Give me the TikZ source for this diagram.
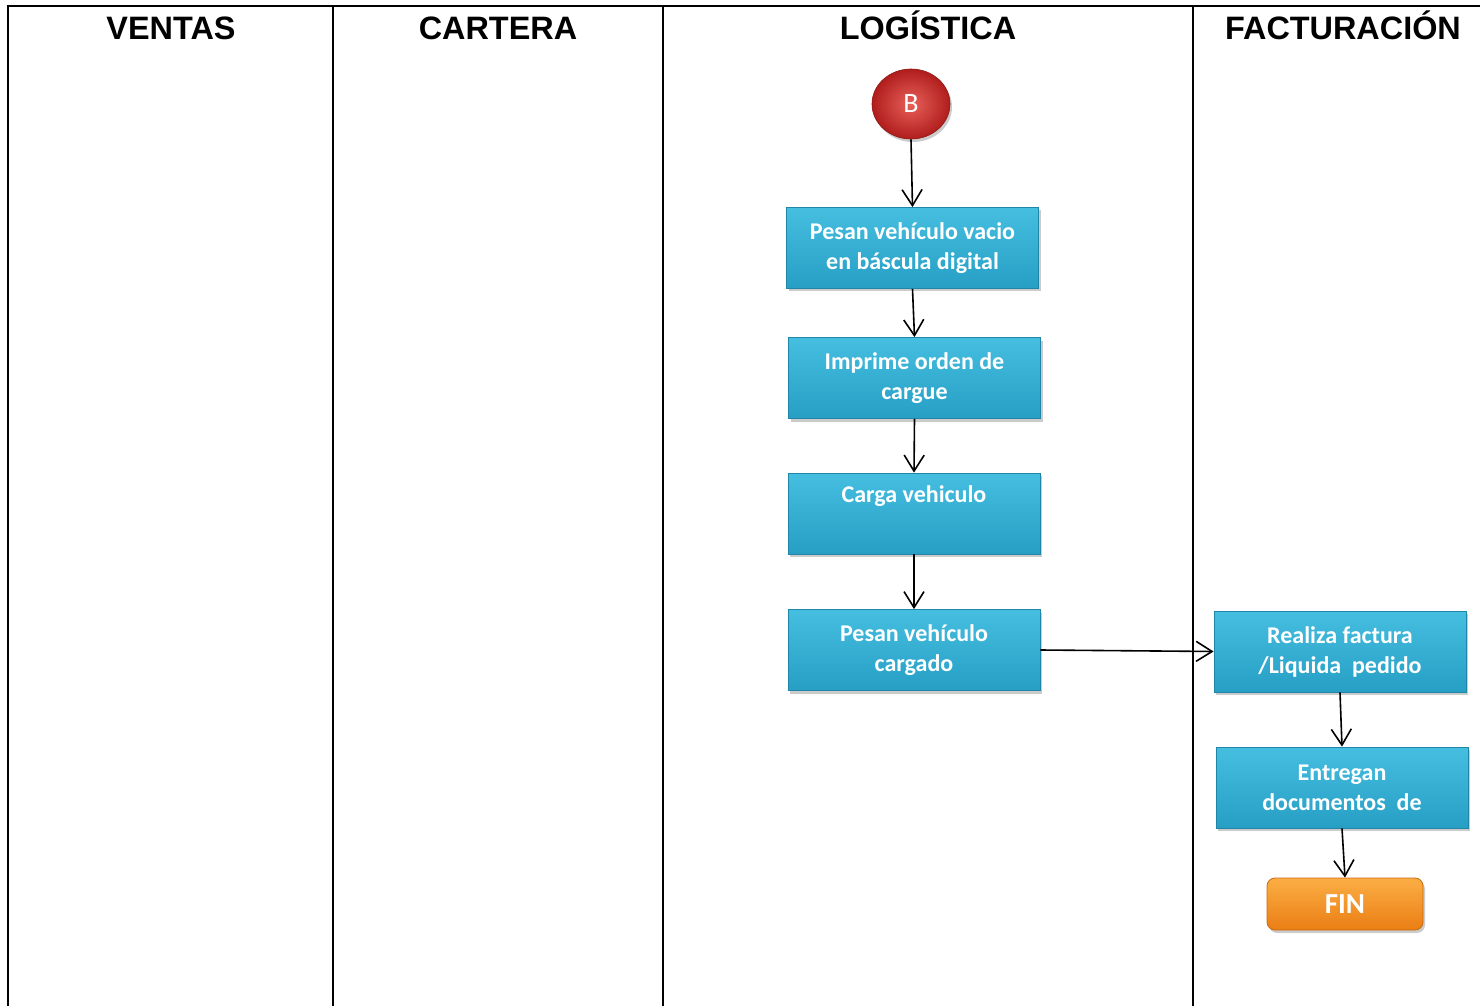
\documentclass[tikz,border=0pt]{standalone}
\usepackage{fontspec}
\setmainfont{Liberation Sans}
\newfontfamily\boxfont{Carlito}
\usetikzlibrary{arrows.meta,shadows,shapes.geometric}

\definecolor{procA}{HTML}{45BEE0}
\definecolor{procB}{HTML}{279FC5}
\definecolor{procLine}{HTML}{1F86A8}
\definecolor{endA}{HTML}{FBAE45}
\definecolor{endB}{HTML}{EA7E14}
\definecolor{endLine}{HTML}{C86A10}
\definecolor{connA}{HTML}{E8605A}
\definecolor{connB}{HTML}{B01E1C}

\tikzset{
  lane/.style={line width=1pt, black},
  lanehead/.style={font=\fontsize{16.2}{18}\selectfont\bfseries, anchor=base},
  procbox/.style={rectangle, minimum width=126pt, minimum height=40.5pt,
    top color=procA, bottom color=procB, draw=procLine, line width=0.4pt,
    text=white, align=center, inner sep=2pt,
    font=\boxfont\fontsize{12}{15}\selectfont\bfseries,
    drop shadow={shadow xshift=1pt, shadow yshift=-1.5pt, fill=black!45, opacity=.45}},
  endbox/.style={rectangle, rounded corners=4pt, minimum width=78pt, minimum height=26pt,
    top color=endA, bottom color=endB, draw=endLine, line width=0.4pt,
    text=white, font=\boxfont\fontsize{14.5}{16}\selectfont\bfseries,
    drop shadow={shadow xshift=1pt, shadow yshift=-1.5pt, fill=black!45, opacity=.45}},
  connector/.style={ellipse, minimum width=39pt, minimum height=35pt, inner sep=0pt,
    inner color=connA, outer color=connB, draw=connB!80!black, line width=0.3pt,
    text=white, font=\boxfont\fontsize{14}{16}\selectfont,
    drop shadow={shadow xshift=1pt, shadow yshift=-1.5pt, fill=black!45, opacity=.45}},
  flow/.style={line width=0.8pt, -{Straight Barb[length=8pt,width=10pt,line width=0.8pt]}}
}

\begin{document}
\begin{tikzpicture}[x=0.5pt,y=-0.5pt]
  \useasboundingbox (0,0) rectangle (1480,1006);

  % swimlane frame
  \draw[lane] (8,1006) -- (8,6) -- (1480,6);
  \foreach \xx in {333,663,1193} \draw[lane] (\xx,6) -- (\xx,1006);

  % lane titles
  \node[lanehead] (hVentas)  at (171,40)  {VENTAS};
  \node[lanehead] (hCartera) at (498,40)  {CARTERA};
  \node[lanehead] (hLog)     at (928,40)  {LOGÍSTICA};
  \node[lanehead] (hFact)    at (1343,40) {FACTURACIÓN};

  % logistics steps
  \node[connector] (b)  at (911,104) {B};
  \node[procbox] (p1) at (912.5,248) {Pesan vehículo vacio\\en báscula digital};
  \node[procbox] (p2) at (914.5,378) {Imprime orden de\\cargue};
  \node[procbox] (p3) at (914,513.5) {Carga vehiculo\\\strut};
  \node[procbox] (p4) at (914,650) {Pesan vehículo\\cargado};

  % billing steps
  \node[procbox] (f1) at (1340,651.5) {Realiza factura\\/Liquida\ \ pedido};
  \node[procbox] (f2) at (1342,787.5) {Entregan\\documentos\ \ de};
  \node[endbox]  (fin) at (1345,904) {FIN};

  % flow
  \draw[flow] (b.south) -- (p1.north);
  \draw[flow] (p1.south) -- (p2.north);
  \draw[flow] (p2.south) -- (p3.north);
  \draw[flow] (p3.south) -- (p4.north);
  \draw[flow] (p4.east) -- (f1.west);
  \draw[flow] (f1.south) -- (f2.north);
  \draw[flow] (f2.south) -- (fin.north);
\end{tikzpicture}
\end{document}
